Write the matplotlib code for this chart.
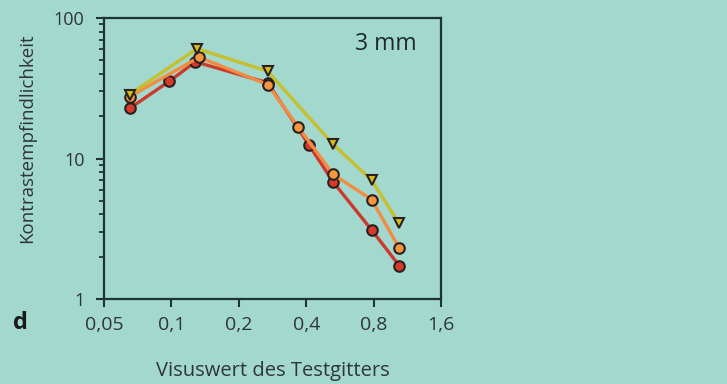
import matplotlib
matplotlib.use("Agg")
import matplotlib.pyplot as plt
from matplotlib.ticker import FixedLocator, FixedFormatter, LogLocator, NullFormatter

# Visual acuity of the test grating (x) and contrast sensitivity (y)
red_x = [0.065, 0.098, 0.128, 0.269, 0.413, 0.528, 0.784, 1.04]
red_y = [22.7, 35.5, 48.8, 34.6, 12.4, 6.8, 3.1, 1.73]

orange_x = [0.065, 0.133, 0.269, 0.369, 0.528, 0.784, 1.04]
orange_y = [27.5, 52.6, 33.6, 16.7, 7.7, 5.1, 2.31]

yellow_x = [0.065, 0.130, 0.269, 0.528, 0.784, 1.04]
yellow_y = [28.5, 60.5, 41.8, 12.6, 7.0, 3.45]

x_ticks = [0.05, 0.1, 0.2, 0.4, 0.8, 1.6]
x_tick_labels = ["0,05", "0,1", "0,2", "0,4", "0,8", "1,6"]
y_ticks = [1, 10, 100]
y_tick_labels = ["1", "10", "100"]

bg = "#a3d8cf"
ink = "#1e3434"
text_col = "#2e3636"
plt.rcParams["font.family"] = ["Open Sans", "DejaVu Sans"]

fig = plt.figure(figsize=(7.27, 3.84), dpi=100, facecolor=bg)
ax = fig.add_axes([104 / 727, 1 - 299 / 384, (441 - 104) / 727, (299 - 18) / 384])
ax.set_facecolor(bg)

ax.set_xscale("log", base=2)
ax.set_yscale("log")
ax.set_xlim(0.05, 1.6)
ax.set_ylim(1, 100)

edge = "#2a2020"
ax.plot(red_x, red_y, color="#cc3a2c", lw=2.4, marker="o", ms=7.6,
        mfc="#d63a2a", mec=edge, mew=1.5, zorder=3)
ax.plot(orange_x, orange_y, color="#f28c40", lw=2.4, marker="o", ms=7.6,
        mfc="#f5963c", mec=edge, mew=1.5, zorder=4)
ax.plot(yellow_x, yellow_y, color="#c6bf2e", lw=2.4, marker="v", ms=7,
        mfc="#d4bc1c", mec=edge, mew=1.5, zorder=5)

ax.xaxis.set_major_locator(FixedLocator(x_ticks))
ax.xaxis.set_major_formatter(FixedFormatter(x_tick_labels))
ax.xaxis.set_minor_locator(FixedLocator([]))
ax.yaxis.set_major_locator(FixedLocator(y_ticks))
ax.yaxis.set_major_formatter(FixedFormatter(y_tick_labels))
ax.yaxis.set_minor_locator(LogLocator(base=10, subs=range(2, 10)))
ax.yaxis.set_minor_formatter(NullFormatter())

for s in ax.spines.values():
    s.set_color(ink)
    s.set_linewidth(1.6)

ax.tick_params(axis="x", which="major", direction="out", length=6, width=1.5,
               color=ink, labelcolor=text_col, labelsize=14, pad=6)
ax.tick_params(axis="y", which="major", direction="out", length=6, width=1.5,
               color=ink, labelcolor=text_col, labelsize=13, pad=8)
ax.tick_params(axis="y", which="minor", direction="out", length=3.5, width=1.3, color=ink)

ax.text(417 / 727, 1 - 44 / 384, "3 mm", transform=fig.transFigure, ha="right",
        va="center", fontsize=16.5, color="#1e2a2a")

fig.text(27 / 727, 1 - 138 / 384, "Kontrastempfindlichkeit", rotation=90,
         ha="center", va="center", fontsize=13.5, color=text_col)
fig.text(273 / 727, 1 - 371 / 384, "Visuswert des Testgitters",
         ha="center", va="center", fontsize=14.5, color=text_col)
fig.text(20 / 727, 1 - 323 / 384, "d", ha="center", va="center",
         fontsize=17, fontweight="bold", color="#1a1a1a")

fig.savefig("out.png", dpi=100, facecolor=bg)
